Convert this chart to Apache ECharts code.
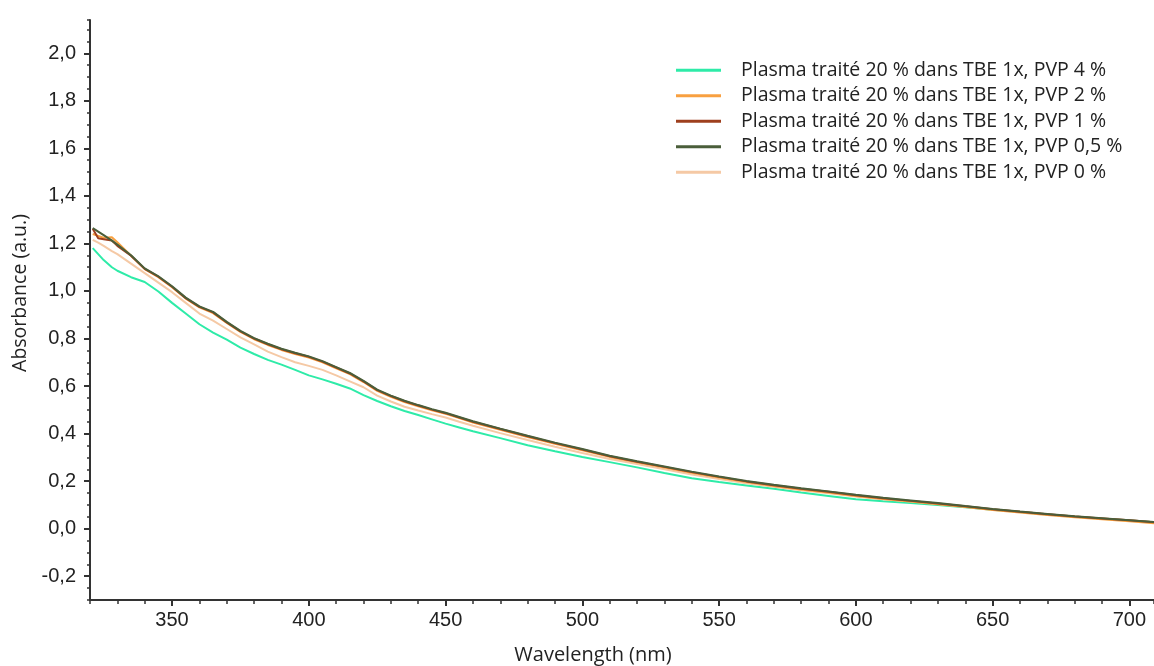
<!DOCTYPE html>
<html>
<head>
<meta charset="utf-8">
<script src="https://cdn.jsdelivr.net/npm/echarts@6/dist/echarts.min.js"></script>
<style>
html,body{margin:0;padding:0;background:#fff;}
#chart{width:1154px;height:666px;}
</style>
</head>
<body>
<div id="chart"></div>
<script>
// Wavelengths (nm)
const wavelengths = [321,323,325,328,330,335,340,345,350,355,360,365,370,375,380,385,390,395,400,405,410,415,420,425,430,435,440,445,450,455,460,470,480,490,500,510,520,530,540,550,560,570,580,590,600,610,620,630,640,650,660,670,680,690,700,709];

const seriesNames = [
  "Plasma traité 20 % dans TBE 1x, PVP 4 %",
  "Plasma traité 20 % dans TBE 1x, PVP 2 %",
  "Plasma traité 20 % dans TBE 1x, PVP 1 %",
  "Plasma traité 20 % dans TBE 1x, PVP 0,5 %",
  "Plasma traité 20 % dans TBE 1x, PVP 0 %"
];

const pvp4 = [1.180,1.155,1.130,1.100,1.085,1.058,1.038,0.998,0.950,0.905,0.860,0.825,0.795,0.762,0.735,0.710,0.690,0.668,0.645,0.628,0.610,0.590,0.562,0.537,0.515,0.495,0.478,0.460,0.442,0.426,0.410,0.381,0.351,0.326,0.302,0.280,0.258,0.234,0.212,0.196,0.182,0.168,0.152,0.138,0.124,0.115,0.108,0.100,0.090,0.080,0.070,0.060,0.050,0.042,0.034,0.027];
const pvp2 = [1.240,1.232,1.224,1.226,1.205,1.148,1.092,1.058,1.016,0.968,0.931,0.907,0.866,0.828,0.797,0.773,0.752,0.735,0.720,0.700,0.675,0.650,0.617,0.580,0.555,0.533,0.515,0.498,0.483,0.465,0.447,0.416,0.386,0.357,0.330,0.302,0.279,0.257,0.235,0.215,0.196,0.180,0.165,0.152,0.138,0.125,0.114,0.103,0.091,0.079,0.068,0.058,0.048,0.040,0.031,0.023];
const pvp1 = [1.262,1.222,1.218,1.212,1.190,1.148,1.093,1.060,1.018,0.970,0.933,0.910,0.868,0.830,0.800,0.776,0.755,0.738,0.723,0.703,0.678,0.653,0.620,0.583,0.558,0.536,0.518,0.501,0.486,0.468,0.450,0.419,0.389,0.360,0.333,0.305,0.282,0.260,0.238,0.218,0.199,0.183,0.168,0.155,0.141,0.128,0.117,0.106,0.094,0.082,0.071,0.061,0.051,0.043,0.035,0.027];
const pvp05 = [1.265,1.250,1.235,1.212,1.195,1.150,1.095,1.062,1.020,0.972,0.935,0.912,0.870,0.832,0.802,0.778,0.757,0.740,0.725,0.705,0.680,0.655,0.622,0.585,0.560,0.538,0.520,0.503,0.488,0.470,0.452,0.421,0.391,0.362,0.335,0.307,0.284,0.262,0.240,0.220,0.201,0.185,0.170,0.157,0.143,0.130,0.119,0.108,0.095,0.083,0.072,0.062,0.052,0.044,0.036,0.028];
const pvp0 = [1.215,1.203,1.190,1.168,1.155,1.115,1.075,1.035,0.995,0.950,0.905,0.875,0.840,0.805,0.775,0.745,0.722,0.700,0.685,0.668,0.645,0.620,0.595,0.560,0.535,0.513,0.497,0.482,0.468,0.450,0.433,0.402,0.373,0.345,0.318,0.293,0.272,0.250,0.228,0.209,0.191,0.176,0.162,0.149,0.135,0.124,0.114,0.104,0.093,0.081,0.071,0.061,0.051,0.043,0.035,0.027];

const xTickLabels = [350,400,450,500,550,600,650,700];
const yTickLabels = [-0.2,0,0.2,0.4,0.6,0.8,1.0,1.2,1.4,1.6,1.8,2.0];

const colors = {
  pvp4: '#2EEBA8',
  pvp2: '#F8A040',
  pvp1: '#9E3F1E',
  pvp05: '#4A5E3A',
  pvp0: '#F5C9A5'
};

function pairs(ys){ return wavelengths.map((w,i)=>[w, ys[i]]); }

const chart = echarts.init(document.getElementById('chart'), null, {renderer:'canvas'});
const tickFont = { fontFamily: 'Liberation Sans, Arial, sans-serif', fontSize: 20, color: '#222' };
const axisLineStyle = { color: '#333', width: 2 };

function mkSeries(name, data, color, z){
  return { name, type:'line', data: pairs(data), showSymbol:false, symbol:'none',
    lineStyle:{ color, width:2 }, itemStyle:{ color }, z, animation:false, xAxisIndex:0, yAxisIndex:0 };
}

chart.setOption({
  animation:false,
  backgroundColor:'#fff',
  grid:{ left:90, right:0, top:20, bottom:66, containLabel:false },
  xAxis:[
    { type:'value', min:320, max:709, position:'bottom',
      axisLine:{ show:true, onZero:false, lineStyle:axisLineStyle },
      axisTick:{ show:true, customValues:xTickLabels, length:6, lineStyle:{color:'#333', width:2} },
      axisLabel:{ show:true, customValues:xTickLabels, margin:10, ...tickFont },
      splitLine:{ show:false } },
    { type:'value', min:320, max:709, interval:10, position:'bottom',
      axisLine:{ show:false, onZero:false },
      axisTick:{ show:true, length:4, lineStyle:{color:'#333', width:1.5} },
      axisLabel:{ show:false }, splitLine:{ show:false } }
  ],
  yAxis:[
    { type:'value', min:-0.3, max:2.14, position:'left',
      axisLine:{ show:true, onZero:false, lineStyle:axisLineStyle },
      axisTick:{ show:true, customValues:yTickLabels, length:6, lineStyle:{color:'#333', width:2} },
      axisLabel:{ show:true, customValues:yTickLabels, margin:14, ...tickFont,
        formatter: v => v.toFixed(1).replace('.', ',') },
      splitLine:{ show:false } },
    { type:'value', min:-0.3, max:2.14, interval:0.05, position:'left',
      axisLine:{ show:false, onZero:false },
      axisTick:{ show:true, length:3, lineStyle:{color:'#333', width:1.5} },
      axisLabel:{ show:false }, splitLine:{ show:false } }
  ],
  legend:{
    data: seriesNames,
    orient:'vertical', left:676, top:60, padding:0,
    itemWidth:45, itemHeight:3, itemGap:5,
    icon:'rect',
    textStyle:{ fontFamily:'Open Sans, sans-serif', fontSize:19.5, lineHeight:20.5, color:'#222', padding:[0,0,0,15] },
    selectedMode:false
  },
  graphic:[
    { type:'text', x:20, y:293, rotation:Math.PI/2, style:{ text:'Absorbance (a.u.)', fontFamily:'Open Sans, sans-serif', fontSize:19.5, fill:'#222', textAlign:'center', textVerticalAlign:'middle' } },
    { type:'text', x:593, y:655, style:{ text:'Wavelength (nm)', fontFamily:'Open Sans, sans-serif', fontSize:20, fill:'#222', textAlign:'center', textVerticalAlign:'middle' } }
  ],
  series:[
    mkSeries(seriesNames[0], pvp4, colors.pvp4, 2),
    mkSeries(seriesNames[4], pvp0, colors.pvp0, 3),
    mkSeries(seriesNames[1], pvp2, colors.pvp2, 4),
    mkSeries(seriesNames[2], pvp1, colors.pvp1, 5),
    mkSeries(seriesNames[3], pvp05, colors.pvp05, 6)
  ]
});
</script>
</body>
</html>
